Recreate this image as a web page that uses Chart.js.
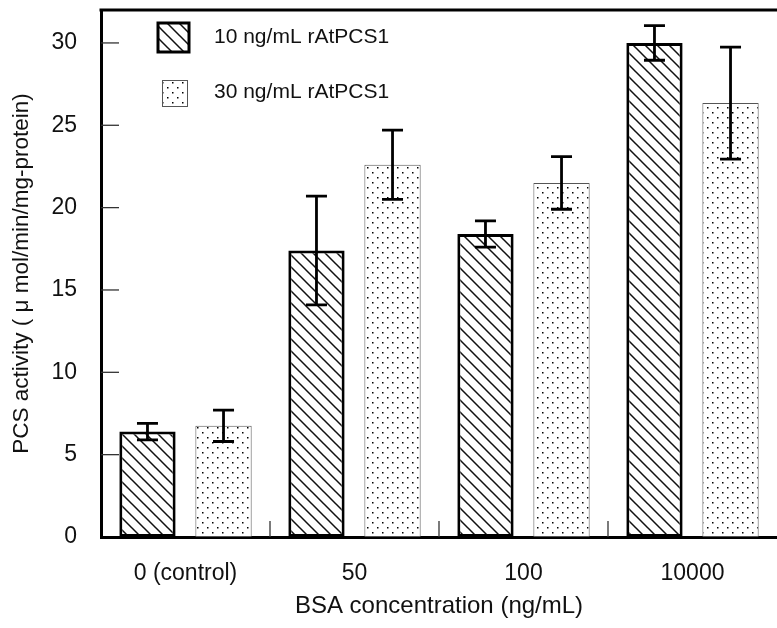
<!DOCTYPE html>
<html>
<head>
<meta charset="utf-8">
<script src="https://cdn.jsdelivr.net/npm/chart.js@4"></script>
<style>
  html, body { margin: 0; padding: 0; background: #fff; }
  #wrap { width: 777px; height: 628px; }
</style>
</head>
<body>
<div id="wrap"><canvas id="pcsChart" width="777" height="628"></canvas></div>
<script>
// data
const categories = ["0 (control)", "50", "100", "10000"];
const seriesNames = ["10 ng/mL rAtPCS1", "30 ng/mL rAtPCS1"];
const activity10 = [6.4, 17.4, 18.4, 30.0];
const activity30 = [6.75, 22.6, 21.5, 26.35];
const error10 = [0.5, 3.3, 0.8, 1.05];
const error30 = [0.95, 2.1, 1.6, 3.4];
const yTickValues = [0, 5, 10, 15, 20, 25, 30];

const FONT = "'Liberation Sans', Arial, sans-serif";

function hatchPattern() {
    const s = 12;
    const c = document.createElement("canvas");
    c.width = s; c.height = s;
    const g = c.getContext("2d");
    g.fillStyle = "#fff";
    g.fillRect(0, 0, s, s);
    g.strokeStyle = "#111";
    g.lineWidth = 1.5;
    g.beginPath();
    g.moveTo(-2, -2); g.lineTo(s + 2, s + 2);
    g.moveTo(-2, s - 2); g.lineTo(2, s + 2);
    g.moveTo(s - 2, -2); g.lineTo(s + 2, 2);
    g.stroke();
    return g.createPattern(c, "repeat");
}

function dotPattern() {
    const c = document.createElement("canvas");
    c.width = 10; c.height = 10;
    const g = c.getContext("2d");
    g.fillStyle = "#fff";
    g.fillRect(0, 0, 10, 10);
    g.fillStyle = "#000";
    g.fillRect(2, 2, 1.5, 1.5);
    g.fillRect(7, 7, 1.5, 1.5);
    return g.createPattern(c, "repeat");
}

const hatch = hatchPattern();
const dots = dotPattern();

// error bars, inward ticks, top frame line and legend
const extras = {
    id: "extras",
    afterDatasetsDraw(chart) {
        const ctx = chart.ctx;
        const y = chart.scales.y;
        const x = chart.scales.x;
        const area = chart.chartArea;
        const errs = [error10, error30];
        const vals = [activity10, activity30];

        ctx.save();
        ctx.strokeStyle = "#000";
        ctx.lineWidth = 2.8;
        for (let d = 0; d < 2; d++) {
            const meta = chart.getDatasetMeta(d);
            meta.data.forEach((bar, i) => {
                const top = y.getPixelForValue(vals[d][i] + errs[d][i]);
                const bot = y.getPixelForValue(vals[d][i] - errs[d][i]);
                ctx.beginPath();
                ctx.moveTo(bar.x, top); ctx.lineTo(bar.x, bot);
                ctx.moveTo(bar.x - 10.5, top); ctx.lineTo(bar.x + 10.5, top);
                ctx.moveTo(bar.x - 10.5, bot); ctx.lineTo(bar.x + 10.5, bot);
                ctx.stroke();
            });
        }

        // inward ticks
        ctx.lineWidth = 1.3;
        ctx.strokeStyle = "#333";
        yTickValues.slice(1).forEach(v => {
            const py = y.getPixelForValue(v);
            ctx.beginPath();
            ctx.moveTo(area.left, py); ctx.lineTo(area.left + 18, py);
            ctx.stroke();
        });
        for (let i = 1; i < categories.length; i++) {
            const px = (x.getPixelForValue(i - 1) + x.getPixelForValue(i)) / 2;
            ctx.beginPath();
            ctx.moveTo(px, area.bottom); ctx.lineTo(px, area.bottom - 16);
            ctx.stroke();
        }

        // top frame
        ctx.lineWidth = 3;
        ctx.strokeStyle = "#000";
        ctx.beginPath();
        ctx.moveTo(area.left - 1.5, area.top); ctx.lineTo(area.right, area.top);
        ctx.stroke();

        // legend
        ctx.fillStyle = hatch;
        ctx.fillRect(158, 23, 31, 29);
        ctx.lineWidth = 3;
        ctx.strokeRect(158, 23, 31, 29);
        ctx.fillStyle = dots;
        ctx.fillRect(162, 80, 25, 26);
        ctx.lineWidth = 1;
        ctx.strokeStyle = "#555";
        ctx.strokeRect(162.5, 80.5, 25, 26);

        ctx.fillStyle = "#111";
        ctx.font = "21px " + FONT;
        ctx.textBaseline = "middle";
        ctx.textAlign = "left";
        ctx.fillText(seriesNames[0], 214, 37);
        ctx.fillText(seriesNames[1], 214, 92);
        ctx.restore();
    }
};

new Chart(document.getElementById("pcsChart"), {
    type: "bar",
    data: {
        labels: categories,
        datasets: [
            {
                label: seriesNames[0],
                data: activity10,
                backgroundColor: hatch,
                borderColor: "#000",
                borderWidth: 3,
                borderSkipped: false,
            },
            {
                label: seriesNames[1],
                data: activity30,
                backgroundColor: dots,
                borderColor: "#555",
                borderWidth: 1,
                borderSkipped: false,
            },
        ],
    },
    options: {
        responsive: false,
        animation: false,
        layout: { padding: { top: 10, right: 0, left: 0, bottom: 0 } },
        plugins: {
            legend: { display: false },
            tooltip: { enabled: false },
        },
        datasets: {
            bar: { categoryPercentage: 0.9, barPercentage: 0.74 },
        },
        scales: {
            x: {
                grid: { display: false },
                border: { color: "#000", width: 3 },
                ticks: {
                    color: "#111",
                    padding: 15,
                    font: { family: FONT, size: 23 },
                },
                title: {
                    display: true,
                    text: "BSA concentration (ng/mL)",
                    color: "#111",
                    padding: { top: 0, bottom: 7 },
                    font: { family: FONT, size: 24 },
                },
                afterFit(scale) {
                    scale.height = 91;
                    scale.paddingLeft = 0;
                    scale.paddingRight = 0;
                },
            },
            y: {
                min: 0,
                max: 32,
                grid: { display: false },
                border: { color: "#000", width: 3 },
                afterBuildTicks(scale) {
                    scale.ticks = yTickValues.map(v => ({ value: v }));
                },
                ticks: {
                    color: "#111",
                    padding: 16,
                    font: { family: FONT, size: 23 },
                },
                title: {
                    display: true,
                    text: "PCS activity ( \u03bc mol/min/mg-protein)",
                    color: "#111",
                    padding: { top: 8, bottom: 6 },
                    font: { family: FONT, size: 22.5 },
                },
                afterFit(scale) {
                    scale.width = 101;
                    scale.paddingTop = 0;
                    scale.paddingBottom = 0;
                },
            },
        },
    },
    plugins: [extras],
});
</script>
</body>
</html>
